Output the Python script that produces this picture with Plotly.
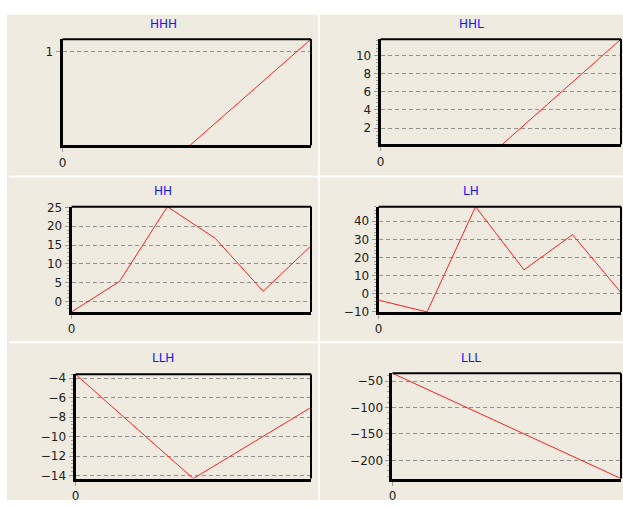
import plotly.graph_objects as go

# ---- data ----
titles = ["HHH", "HHL", "HH", "LH", "LLH", "LLL"]
hhh_values = [-0.03, -0.03, 1.13]
hhl_values = [0.05, 0.05, 11.8]
hh_values = [-2.8, 5.3, 25.2, 16.8, 2.7, 14.8]
lh_values = [-3.5, -10, 48, 13.2, 32.6, 0.7]
llh_values = [-3.6, -14.3, -7]
lll_values = [-35, -234.5]
series = [hhh_values, hhl_values, hh_values, lh_values, llh_values, lll_values]
y_ranges = [[0, 1.13], [0.2, 11.8], [-2.8, 25.2], [-10, 48],
            [-14.3, -3.6], [-234.5, -35]]
y_tickvals = [[1], [2, 4, 6, 8, 10], [0, 5, 10, 15, 20, 25],
              [-10, 0, 10, 20, 30, 40], [-14, -12, -10, -8, -6, -4],
              [-200, -150, -100, -50]]
y_minor_step = [None, 0.4, 1, 2, 0.4, 10]
x_ticklabels = ["0"]

# ---- layout geometry (pixels of the 623x507 picture) ----
W, H = 623, 507
plot_boxes = [  # x0, x1, y0(top), y1(bottom)
    (58, 309, 33, 144),
    (378, 621, 33, 143),
    (67, 309, 205, 315),
    (376, 621, 205, 315),
    (71, 309, 377, 486),
    (390, 621, 376, 486),
]
cells = [(5, 316, 9, 174), (318, 623, 9, 174),
         (5, 316, 176, 344), (318, 623, 176, 344),
         (5, 316, 346, 507), (318, 623, 346, 507)]
title_y = [18, 18, 190, 190, 361, 361]

BEIGE = "#F0EBE0"
FONT = "DejaVu Sans, Verdana, sans-serif"

fig = go.Figure()
shapes = []
annotations = []
layout = {}

for i, vals in enumerate(series):
    n = i + 1
    xa = "xaxis" if n == 1 else f"xaxis{n}"
    ya = "yaxis" if n == 1 else f"yaxis{n}"
    xr = "x" if n == 1 else f"x{n}"
    yr = "y" if n == 1 else f"y{n}"
    x0, x1, yt, yb = plot_boxes[i]
    xs = list(range(len(vals)))
    fig.add_trace(go.Scatter(x=xs, y=vals, mode="lines",
                             line=dict(color="#FF2020", width=1),
                             xaxis=xr, yaxis=yr, showlegend=False,
                             hoverinfo="skip"))
    layout[xa] = dict(domain=[(x0 + 1) / W, x1 / W], anchor=yr,
                      range=[0, len(vals) - 1],
                      showgrid=False, zeroline=False,
                      showline=True, linecolor="black", linewidth=3,
                      tickvals=[0], ticktext=x_ticklabels,
                      ticks="outside", ticklen=4, tickcolor="#999999",
                      tickfont=dict(family=FONT, size=12, color="#222222"),
                      fixedrange=True)
    yax = dict(domain=[1 - (yb - 1) / H, 1 - (yt + 1) / H], anchor=xr,
               range=y_ranges[i],
               tickvals=y_tickvals[i],
               showgrid=True, gridcolor="#909090", gridwidth=1,
               griddash="4px,3px",
               zeroline=False,
               showline=True, linecolor="black", linewidth=3,
               ticks="outside", ticklen=4, tickcolor="#999999",
               tickfont=dict(family=FONT, size=12, color="#222222"),
               fixedrange=True)
    if y_minor_step[i]:
        yax["minor"] = dict(ticks="outside", ticklen=2, tickcolor="#A0A0A0",
                            tickwidth=1, dtick=y_minor_step[i], tick0=0,
                            showgrid=False)
    layout[ya] = yax
    # top and right frame lines
    shapes.append(dict(type="line", xref=f"{xr} domain", yref=f"{yr} domain",
                       x0=0, x1=1, y0=1, y1=1,
                       line=dict(color="black", width=2), layer="above"))
    shapes.append(dict(type="line", xref=f"{xr} domain", yref=f"{yr} domain",
                       x0=1, x1=1, y0=0, y1=1,
                       line=dict(color="black", width=2), layer="above"))
    # cell background
    cx0, cx1, cy0, cy1 = cells[i]
    shapes.append(dict(type="rect", xref="paper", yref="paper",
                       x0=cx0 / W, x1=cx1 / W, y0=1 - cy1 / H, y1=1 - cy0 / H,
                       fillcolor=BEIGE, line=dict(width=0), layer="below"))
    annotations.append(dict(text=titles[i], xref="paper", yref="paper",
                            x=(cx0 + cx1) / 2 / W, y=1 - title_y[i] / H,
                            xanchor="center", yanchor="middle",
                            showarrow=False,
                            font=dict(family=FONT, size=12, color="#1515FF")))

# thin light line at far left
shapes.append(dict(type="line", xref="paper", yref="paper",
                   x0=4 / W, x1=4 / W, y0=0, y1=1 - 9 / H,
                   line=dict(color="#D8D4CC", width=1), layer="below"))

fig.update_layout(width=W, height=H, margin=dict(l=0, r=0, t=0, b=0),
                  paper_bgcolor="white", plot_bgcolor="rgba(0,0,0,0)",
                  shapes=shapes, annotations=annotations, **layout)

fig.write_html(
    "out.html",
    config={"displayModeBar": False},
    post_script=(
        "document.documentElement.style.margin='0px';"
        "document.documentElement.style.overflow='hidden';"
        "document.body.style.margin='0px';"
        "document.body.style.overflow='hidden';"
    ),
)
